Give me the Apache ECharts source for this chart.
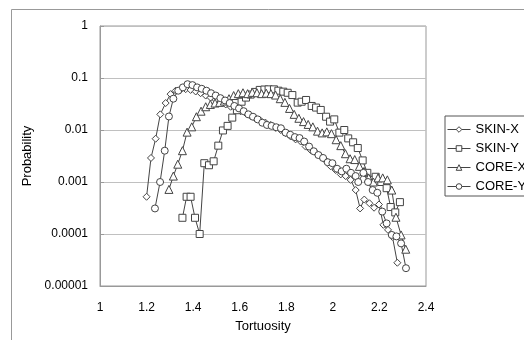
<!DOCTYPE html>
<html>
<head>
<meta charset="utf-8">
<script src="https://cdn.jsdelivr.net/npm/echarts@6/dist/echarts.min.js"></script>
<style>
  html, body { margin: 0; padding: 0; background: #fff; }
  #chart { width: 524px; height: 340px; }
</style>
</head>
<body>
<div id="chart"></div>
<script>
// tortuosity distributions
var skinXx = [1.200, 1.219, 1.239, 1.259, 1.282, 1.303, 1.325, 1.346, 1.368, 1.389, 1.411, 1.432, 1.454, 1.475, 1.497, 1.518, 1.540, 1.561, 1.583, 1.604, 1.626, 1.647, 1.668, 1.690, 1.711, 1.733, 1.754, 1.776, 1.797, 1.819, 1.840, 1.862, 1.883, 1.905, 1.926, 1.948, 1.969, 1.991, 2.012, 2.034, 2.055, 2.076, 2.098, 2.117, 2.135, 2.157, 2.177, 2.198, 2.217, 2.237, 2.256, 2.277]
var skinXy = [5.2e-4, 2.9e-3, 6.8e-3, 0.020, 0.033, 0.049, 0.057, 0.060, 0.061, 0.059, 0.055, 0.051, 0.046, 0.042, 0.038, 0.034, 0.031, 0.028, 0.026, 0.023, 0.021, 0.0186, 0.0167, 0.0151, 0.0138, 0.0125, 0.011, 0.010, 0.0087, 0.0075, 0.0066, 0.0060, 0.0048, 0.0041, 0.0037, 0.0031, 0.0026, 0.0020, 0.0017, 0.0014, 0.0013, 0.0011, 7.0e-4, 3.1e-4, 4.6e-4, 3.9e-4, 3.2e-4, 3.7e-4, 1.5e-4, 1.2e-4, 8.8e-5, 2.8e-5]

var skinYx = [1.354, 1.372, 1.389, 1.408, 1.428, 1.448, 1.468, 1.488, 1.508, 1.528, 1.548, 1.568, 1.588, 1.608, 1.627, 1.647, 1.666, 1.686, 1.706, 1.724, 1.747, 1.766, 1.787, 1.806, 1.826, 1.849, 1.866, 1.885, 1.909, 1.928, 1.948, 1.971, 1.988, 2.006, 2.028, 2.049, 2.066, 2.087, 2.107, 2.128, 2.148, 2.167, 2.184, 2.208, 2.231, 2.248, 2.268, 2.288]
var skinYy = [2.05e-4, 5.2e-4, 5.2e-4, 2.05e-4, 1.0e-4, 2.3e-3, 2.1e-3, 2.5e-3, 5.0e-3, 9.8e-3, 0.012, 0.0173, 0.024, 0.035, 0.042, 0.048, 0.054, 0.059, 0.060, 0.0605, 0.0605, 0.057, 0.0546, 0.052, 0.047, 0.0336, 0.035, 0.0378, 0.029, 0.027, 0.0243, 0.018, 0.0145, 0.016, 0.0089, 0.010, 0.0069, 0.0058, 0.0045, 0.0026, 0.0015, 0.0011, 0.00126, 0.0010, 7.6e-4, 3.3e-4, 2.6e-4, 4.1e-4]

var coreXx = [1.296, 1.315, 1.334, 1.354, 1.374, 1.394, 1.414, 1.434, 1.454, 1.474, 1.494, 1.514, 1.534, 1.554, 1.574, 1.594, 1.614, 1.634, 1.654, 1.674, 1.694, 1.714, 1.734, 1.754, 1.774, 1.794, 1.814, 1.834, 1.854, 1.874, 1.894, 1.914, 1.934, 1.954, 1.974, 1.994, 2.014, 2.034, 2.054, 2.074, 2.094, 2.114, 2.134, 2.154, 2.174, 2.194, 2.214, 2.234, 2.253, 2.271, 2.293, 2.313]
var coreXy = [7.2e-4, 1.3e-3, 2.2e-3, 4.0e-3, 9.1e-3, 0.0115, 0.018, 0.023, 0.028, 0.031, 0.033, 0.034, 0.036, 0.040, 0.046, 0.050, 0.052, 0.050, 0.053, 0.052, 0.050, 0.051, 0.050, 0.047, 0.040, 0.034, 0.026, 0.020, 0.0168, 0.0145, 0.0128, 0.0115, 0.0095, 0.0088, 0.0092, 0.0085, 0.0065, 0.0050, 0.0035, 0.0028, 0.0027, 0.0020, 0.0016, 0.0012, 0.0010, 0.0012, 0.0012, 0.0011, 7.0e-4, 2.1e-4, 9.6e-5, 5.1e-5]

var coreYx = [1.236, 1.258, 1.278, 1.296, 1.315, 1.336, 1.356, 1.376, 1.397, 1.417, 1.437, 1.457, 1.477, 1.497, 1.517, 1.537, 1.557, 1.577, 1.597, 1.617, 1.637, 1.657, 1.677, 1.697, 1.717, 1.737, 1.757, 1.777, 1.797, 1.817, 1.837, 1.857, 1.877, 1.898, 1.918, 1.938, 1.958, 1.978, 1.998, 2.018, 2.038, 2.058, 2.078, 2.098, 2.109, 2.131, 2.151, 2.171, 2.191, 2.212, 2.231, 2.253, 2.273, 2.293, 2.314]
var coreYy = [3.1e-4, 1.0e-3, 4.0e-3, 0.0182, 0.040, 0.057, 0.066, 0.076, 0.073, 0.066, 0.062, 0.057, 0.051, 0.046, 0.041, 0.037, 0.033, 0.029, 0.026, 0.023, 0.020, 0.018, 0.016, 0.0138, 0.0125, 0.012, 0.0113, 0.0108, 0.0089, 0.0081, 0.0073, 0.0070, 0.0060, 0.0048, 0.0039, 0.0033, 0.0029, 0.0024, 0.0023, 0.0018, 0.0016, 0.0018, 0.0015, 0.0013, 0.0010, 0.0015, 0.0010, 7.0e-4, 6.2e-4, 2.7e-4, 1.6e-4, 9.6e-5, 9.0e-5, 6.6e-5, 2.2e-5]

var seriesNames = ['SKIN-X', 'SKIN-Y', 'CORE-X', 'CORE-Y']
var seriesSymbols = ['diamond', 'rect', 'triangle', 'circle']
var yTickLabels = ['1', '0.1', '0.01', '0.001', '0.0001', '0.00001']

function pairs(xs, ys) {
  return xs.map(function(x, i) { return [x, ys[i]] })
}

var allData = [
  pairs(skinXx, skinXy),
  pairs(skinYx, skinYy),
  pairs(coreXx, coreXy),
  pairs(coreYx, coreYy)
]

var font = 'Liberation Sans, Arial, sans-serif'

var chart = echarts.init(document.getElementById('chart'), null, { renderer: 'canvas' })

chart.setOption({
  animation: false,
  backgroundColor: '#fff',
  graphic: [
    {
      type: 'rect',
      shape: { x: 11.5, y: 9.5, width: 600, height: 400 },
      style: { fill: 'none', stroke: '#999', lineWidth: 1 },
      silent: true,
      z: -1
    }
  ],
  grid: {
    left: 100,
    right: 98,
    top: 26,
    bottom: 54,
    show: true,
    borderColor: '#999',
    borderWidth: 1,
    backgroundColor: '#fff'
  },
  legend: {
    data: seriesNames,
    orient: 'vertical',
    left: 445,
    top: 116,
    itemGap: 6,
    itemWidth: 23,
    itemHeight: 7,
    padding: [7, 12, 3, 2],
    borderColor: '#555',
    borderWidth: 1,
    lineStyle: { width: 1, color: '#444' },
    itemStyle: { borderWidth: 1, borderColor: '#444', color: '#fff' },
    textStyle: { fontFamily: font, fontSize: 13, color: '#000' }
  },
  xAxis: {
    type: 'value',
    min: 1,
    max: 2.4,
    interval: 0.2,
    name: 'Tortuosity',
    nameLocation: 'middle',
    nameGap: 34,
    nameTextStyle: { fontFamily: font, fontSize: 13, color: '#000' },
    axisLine: { lineStyle: { color: '#999' } },
    axisTick: { show: false },
    splitLine: { show: false },
    axisLabel: {
      fontFamily: font,
      fontSize: 12,
      color: '#000',
      margin: 16,
      formatter: function(v) { return String(Math.round(v * 10) / 10) }
    }
  },
  yAxis: {
    type: 'log',
    logBase: 10,
    min: 0.00001,
    max: 1,
    name: 'Probability',
    nameLocation: 'middle',
    nameGap: 64,
    nameTextStyle: { fontFamily: font, fontSize: 13, color: '#000' },
    axisLine: { show: true, lineStyle: { color: '#999' } },
    axisTick: { show: true, inside: true, length: 4, lineStyle: { color: '#999' } },
    splitLine: { show: true, lineStyle: { color: '#c0c0c0', width: 1 } },
    axisLabel: {
      fontFamily: font,
      fontSize: 12,
      color: '#000',
      margin: 12,
      formatter: function(v) { return yTickLabels[Math.round(-Math.log10(v))] }
    }
  },
  series: allData.map(function(d, i) {
    return {
      name: seriesNames[i],
      type: 'line',
      data: d,
      symbol: seriesSymbols[i],
      symbolSize: seriesSymbols[i] === 'triangle' ? 8 : 7,
      showAllSymbol: true,
      lineStyle: { color: '#444', width: 1 },
      itemStyle: { color: '#fff', borderColor: '#444', borderWidth: 1 },
      emphasis: { disabled: true }
    }
  })
})
</script>
</body>
</html>
